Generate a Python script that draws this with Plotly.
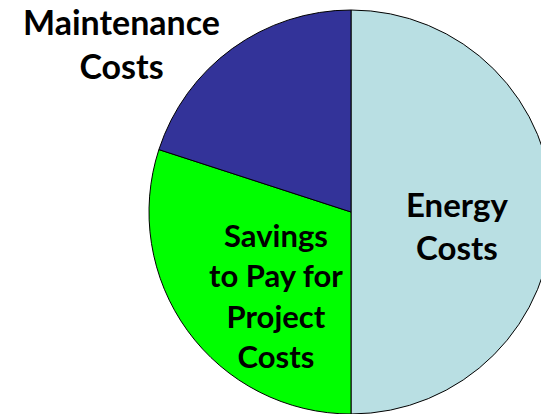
import plotly.graph_objects as go

labels = ["Energy Costs", "Savings to Pay for Project Costs", "Maintenance Costs"]
shares = [50, 30, 20]
colors = ["#B9DFE3", "#00FF00", "#333399"]

W, H = 553, 414
cx, cy, r = 351, 212, 202

fig = go.Figure(go.Pie(
    labels=labels,
    values=shares,
    sort=False,
    direction="clockwise",
    rotation=0,
    textinfo="none",
    hoverinfo="label+percent",
    marker=dict(colors=colors, line=dict(color="black", width=1)),
    domain=dict(x=[(cx - r) / W, (cx + r) / W], y=[1 - (cy + r) / H, 1 - (cy - r) / H]),
))

# label text placed by hand (x, y in pixels, font size)
label_pos = [(457, 225, 33, "Energy<br>Costs"),
             (276, 295, 31, "Savings<br>to Pay for<br>Project<br>Costs"),
             (121, 43, 34, "Maintenance<br>Costs")]
for x, y, s, t in label_pos:
    fig.add_annotation(x=x / W, y=1 - y / H, xref="paper", yref="paper",
                       text="<b>" + t + "</b>", showarrow=False,
                       font=dict(family="Lato, sans-serif", size=s, color="black"),
                       xanchor="center", yanchor="middle")

fig.update_layout(
    width=W, height=H,
    margin=dict(l=0, r=0, t=0, b=0),
    showlegend=False,
    paper_bgcolor="white",
)

fig.write_html(
    "out.html",
    config={"displayModeBar": False},
    post_script="document.body.style.margin='0';document.body.style.overflow='hidden';",
)
